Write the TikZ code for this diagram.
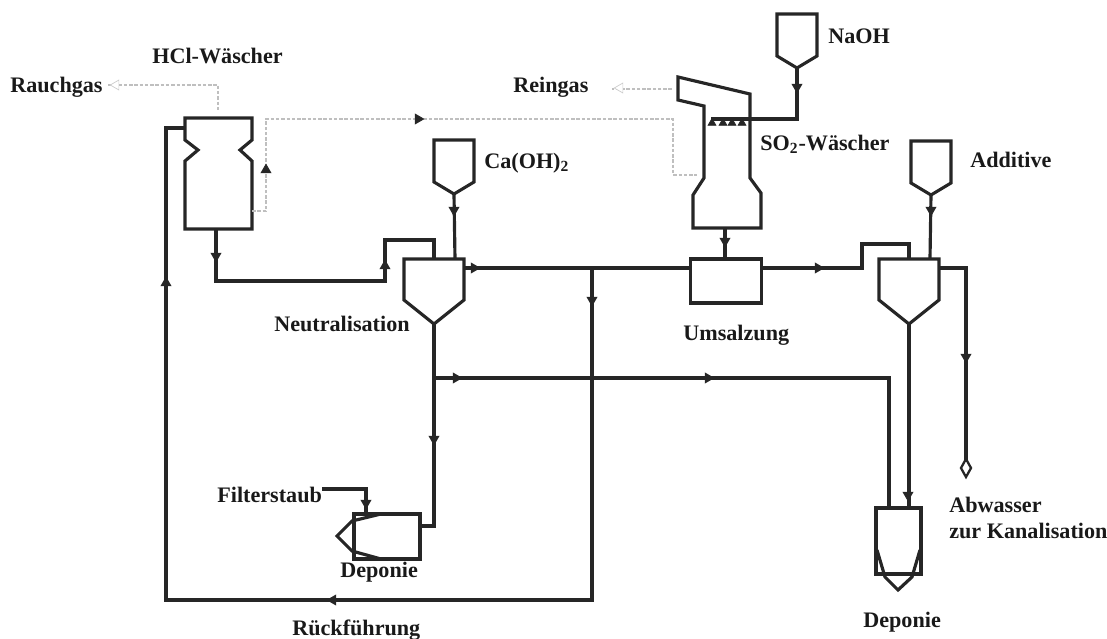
\documentclass[tikz,border=0pt]{standalone}
\usepackage{fontspec}
\setmainfont{Liberation Serif}
\usetikzlibrary{shapes.geometric, arrows.meta}
\tikzset{
  % Equipment and streams
  vessel/.style={
    draw=black!85, line width=1.8pt, line join=miter, fill=none
  },
  stream/.style={
    draw=black!85, line width=1.8pt, line join=miter
  },
  gasline/.style={
    draw=gray!50, line width=0.7pt, dash pattern=on 2pt off 1pt
  },
  tipnode/.style={
    regular polygon, regular polygon sides=3, fill=black!85, draw=black!85,
    inner sep=0pt, minimum size=0.23cm
  },
  tipgas/.style={
    tipnode, fill=white, draw=gray!40, line width=0.4pt
  },
  tiphollow/.style={
    diamond, fill=white, draw=black!85, line width=1.3pt, inner sep=0pt,
    minimum width=0.22cm, minimum height=0.38cm
  },
  lbl/.style={
    anchor=base west, inner sep=0pt,
    font=\fontsize{12.6}{14.5}\selectfont\bfseries, text=black!90
  },
  box/.style={
    rectangle, draw=black!85, line width=1.8pt, inner sep=0pt
  },
  silo/.pic={
    \draw[vessel] (-20,0) -- (20,0) -- (20,42) -- (0,54) -- (-20,42) -- cycle;
    \coordinate (-tip) at (0,54);
  },
  settler/.pic={
    \draw[vessel] (-30,0) -- (30,0) -- (30,41) -- (0,65) -- (-30,41) -- cycle;
    \coordinate (-tip) at (0,65);
    \coordinate (-top) at (0,0);
    \coordinate (-feed) at (21,0);
    \coordinate (-out) at (30,9);
  }
}
\begin{document}
\begin{tikzpicture}[x=0.02cm, y=-0.02cm]
  \useasboundingbox (0,0) rectangle (1107,639);

  % --- HCl scrubber ---
  \draw[vessel] (185,118) -- (252,118) -- (252,140) -- (240,150) -- (252,161)
    -- (252,229) -- (185,229) -- (185,161) -- (198,150) -- (185,140) -- cycle;
  \coordinate (hcl_in) at (218,112);
  \coordinate (hcl_bot) at (216,229);
  \coordinate (hcl_back) at (185,128);
  \coordinate (hcl_out) at (252,211);

  % --- SO2 scrubber ---
  \draw[vessel] (678,77) -- (750,94) -- (750,178) -- (761,193) -- (761,228)
    -- (693,228) -- (693,195) -- (704,178) -- (704,106) -- (678,100) -- cycle;
  \coordinate (so_in) at (697,175);
  \coordinate (so_out) at (672,89);
  \coordinate (so_bot) at (725,228);
  \coordinate (spray_l) at (711,119);

  % spray nozzles
  \node[tipnode, minimum size=0.18cm] (noz1) at (712,123) {};
  \node[tipnode, minimum size=0.18cm] (noz2) at (723,123) {};
  \node[tipnode, minimum size=0.18cm] (noz3) at (732,123) {};
  \node[tipnode, minimum size=0.18cm] (noz4) at (742,123) {};

  % --- Silos and settlers ---
  \pic (naoh) at (797,14) {silo};
  \pic (caoh) at (454,140) {silo};
  \pic (addi) at (931,141) {silo};
  \pic (neut) at (434,259) {settler};
  \pic (sett) at (909,259) {settler};
  \node[box, minimum width=1.42cm, minimum height=0.88cm] (umsalz) at (726,281) {};

  % --- Landfills ---
  \node[box, minimum width=1.32cm, minimum height=0.9cm] (dep_l) at (387,536.5) {};
  \draw[vessel] (381,514) -- (352,521) -- (337,536) -- (352,551) -- (381,559);
  \draw[vessel, line width=2.6pt] (354,516) -- (354,557);
  \node[box, minimum width=0.9cm, minimum height=1.32cm] (dep_r) at (898.5,541) {};
  \draw[vessel] (877,550) -- (885,577) -- (898,590) -- (912,577) -- (920,550);

  % --- Gas lines ---
  \coordinate (rauch) at (108,85);
  \coordinate (rein) at (612,89);
  \draw[gasline] (rauch) -| (hcl_in);
  \draw[gasline] (hcl_out) -- (266,211) |- (673,119) |- (so_in);
  \draw[gasline] (so_out) -- (rein);
  \node[tipgas, rotate=90] (tip_rauch) at (116,85) {};
  \node[tipgas, rotate=90] (tip_rein) at (620,88) {};

  % --- Streams ---
  \draw[stream] (hcl_bot) |- (385,281) |- (neut-top |- 0,240) -- (neut-top);
  \draw[stream] (hcl_back) -| (166,600) -| (592,268);
  \draw[stream] (caoh-tip) -- (neut-feed);
  \draw[stream] (neut-out) -- (umsalz.west |- neut-out);
  \draw[stream] (neut-tip) -- (434,526) -- (dep_l.east |- 0,526);
  \draw[stream] (434,378) -| (dep_r.north -| 889,0);
  \draw[stream] (322,489) -| (366,514);
  \draw[stream] (so_bot) -- (umsalz.north -| so_bot);
  \draw[stream] (naoh-tip) |- (spray_l);
  \draw[stream] (umsalz.east |- 0,268) -- (862,268) |- (sett-top |- 0,244) -- (sett-top);
  \draw[stream] (addi-tip) -- (sett-feed);
  \draw[stream] (sett-out) -- (966,268) -- (966,460);
  \draw[stream] (sett-tip) -- (sett-tip |- dep_r.north);

  % --- Flow tips ---
  \node[tipnode, rotate=180] (tip1) at (216,256) {};
  \node[tipnode] (tip2) at (166,283) {};
  \node[tipnode] (tip3) at (266,170) {};
  \node[tipnode, rotate=-90] (tip4) at (418,119) {};
  \node[tipnode] (tip5) at (385,266) {};
  \node[tipnode, rotate=180] (tip6) at (454,210) {};
  \node[tipnode, rotate=-90] (tip7) at (474,268) {};
  \node[tipnode, rotate=180] (tip8) at (592,300) {};
  \node[tipnode, rotate=-90] (tip9) at (456,378) {};
  \node[tipnode, rotate=-90] (tip10) at (708,378) {};
  \node[tipnode, rotate=180] (tip11) at (434,439) {};
  \node[tipnode, rotate=180] (tip12) at (366,503) {};
  \node[tipnode, rotate=90] (tip13) at (333,600) {};
  \node[tipnode, rotate=180] (tip14) at (725,241) {};
  \node[tipnode, rotate=180] (tip15) at (797,87) {};
  \node[tipnode, rotate=-90] (tip16) at (818,268) {};
  \node[tipnode, rotate=180] (tip17) at (931,210) {};
  \node[tipnode, rotate=180] (tip18) at (966,357) {};
  \node[tipnode, rotate=180] (tip19) at (908,495) {};
  \node[tiphollow] (tip20) at (966,468) {};

  % --- Labels ---
  \node[lbl] (l_hcl) at (152,63) {HCl-Wäscher};
  \node[lbl] (l_rauch) at (10,92) {Rauchgas};
  \node[lbl] (l_rein) at (513,92) {Reingas};
  \node[lbl] (l_naoh) at (828,44) {NaOH};
  \node[lbl] (l_so) at (760,150) {SO\textsubscript{2}-Wäscher};
  \node[lbl] (l_ca) at (484,168) {Ca(OH)\textsubscript{2}};
  \node[lbl] (l_addi) at (970,167) {Additive};
  \node[lbl] (l_neut) at (274,331) {Neutralisation};
  \node[lbl] (l_umsalz) at (683,340) {Umsalzung};
  \node[lbl] (l_filter) at (217,502) {Filterstaub};
  \node[lbl] (l_dep1) at (340,577) {Deponie};
  \node[lbl] (l_rueck) at (292,635) {Rückführung};
  \node[lbl] (l_dep2) at (863,627) {Deponie};
  \node[lbl] (l_abw) at (949,512) {Abwasser};
  \node[lbl] (l_kanal) at (949,538) {zur Kanalisation};
\end{tikzpicture}
\end{document}
